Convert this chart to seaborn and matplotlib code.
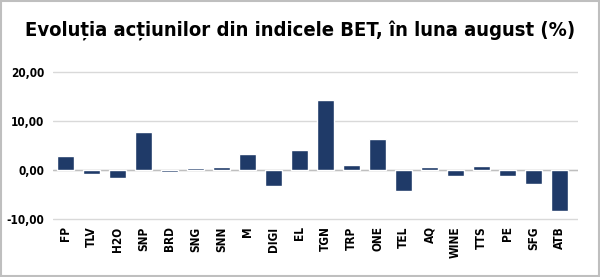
import matplotlib
matplotlib.use("Agg")
import matplotlib.pyplot as plt
import seaborn as sns
import pandas as pd
from matplotlib.ticker import FuncFormatter

tickers = ["FP", "TLV", "H2O", "SNP", "BRD", "SNG", "SNN", "M", "DIGI", "EL",
           "TGN", "TRP", "ONE", "TEL", "AQ", "WINE", "TTS", "PE", "SFG", "ATB"]
values = [2.9, -0.8, -1.6, 7.8, -0.4, 0.4, 0.55, 3.3, -3.2, 4.0,
          14.3, 1.0, 6.3, -4.2, 0.6, -1.3, 0.8, -1.3, -2.9, -8.3]
yticks = [-10, 0, 10, 20]
title = "Evoluția acțiunilor din indicele BET, în luna august (%)"

sns.set_theme(style="white")
plt.rcParams['font.family'] = ['DejaVu Sans']
plt.rcParams['font.stretch'] = 'condensed'
plt.rcParams['text.color'] = 'black'
plt.rcParams['xtick.color'] = 'black'
plt.rcParams['ytick.color'] = 'black'

df = pd.DataFrame({"ticker": tickers, "value": values})

fig = plt.figure(figsize=(6, 2.77), dpi=100)
ax = fig.add_axes([0.088, 0.2, 0.875, 0.55])

sns.barplot(data=df, x="ticker", y="value", color="#1f3a68", width=0.65,
            saturation=1, ax=ax, zorder=3)

ax.set_ylim(-10.5, 20.5)
ax.set_yticks(yticks)
ax.yaxis.set_major_formatter(FuncFormatter(lambda v, p: f"{v:.2f}".replace(".", ",")))
ax.grid(axis="y", color="#d9d9d9", linewidth=1, zorder=0)
ax.axhline(0, color="#bfbfbf", linewidth=1, zorder=1)
for s in ax.spines.values():
    s.set_visible(False)
ax.set_xlabel("")
ax.set_ylabel("")
ax.tick_params(axis="both", length=0, colors="black")
ax.tick_params(axis="y", pad=6)
for lbl in ax.get_yticklabels():
    lbl.set_fontweight("bold")
    lbl.set_fontsize(8.5)
    lbl.set_fontstretch("condensed")
    lbl.set_color("black")
for lbl in ax.get_xticklabels():
    lbl.set_rotation(90)
    lbl.set_fontweight("bold")
    lbl.set_fontsize(8.5)
    lbl.set_fontstretch("condensed")
    lbl.set_color("black")
ax.set_xlim(-0.5, len(tickers) - 0.3)

fig.text(0.5, 0.89, title, ha="center", va="center", fontsize=14.5,
         fontweight="bold", fontstretch="condensed", color="black")

border = plt.Rectangle((0.002, 0.004), 0.996, 0.992, transform=fig.transFigure,
                       fill=False, edgecolor="#bfbfbf", linewidth=1.5)
fig.add_artist(border)

fig.savefig("out.png", dpi=100, facecolor="white")
